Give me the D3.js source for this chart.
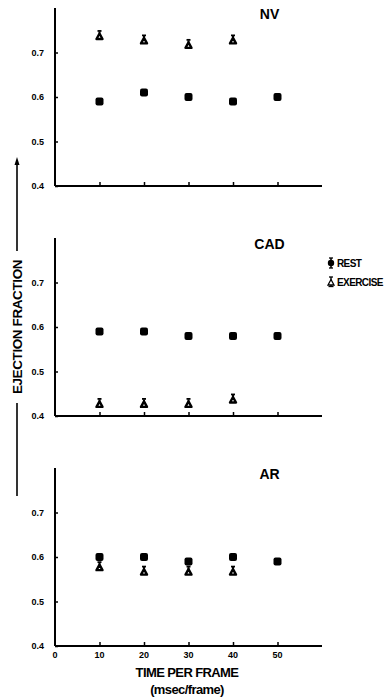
<!DOCTYPE html>
<html>
<head>
<meta charset="utf-8">
<script src="https://cdn.jsdelivr.net/npm/d3@7"></script>
<style>
html,body{margin:0;padding:0;background:#fff;}
svg{display:block;}
text{font-family:"Liberation Sans",Arial,Helvetica,sans-serif;font-weight:bold;fill:#000;}
</style>
</head>
<body>
<svg id="chart" width="391" height="700"></svg>
<script>
// ---- data ----
const times = [10, 20, 30, 40, 50];
const panels = ["NV", "CAD", "AR"];
const restNV = [0.59, 0.61, 0.60, 0.59, 0.60];
const exerciseNV = [0.74, 0.73, 0.72, 0.73];
const restCAD = [0.59, 0.59, 0.58, 0.58, 0.58];
const exerciseCAD = [0.43, 0.43, 0.43, 0.44];
const restAR = [0.60, 0.60, 0.59, 0.60, 0.59];
const exerciseAR = [0.58, 0.57, 0.57, 0.57];
const yTicks = [0.4, 0.5, 0.6, 0.7];
const xTicks = [0, 10, 20, 30, 40, 50];
const xTickLabels = ["0", "10", "20", "30", "40", "50"];
const legendLabels = ["REST", "EXERCISE"];
const xTitle = ["TIME PER FRAME", "(msec/frame)"];
const yTitle = "EJECTION FRACTION";

const restSeries = [restNV, restCAD, restAR];
const exSeries = [exerciseNV, exerciseCAD, exerciseAR];

const svg = d3.select("#chart");
const x = d3.scaleLinear().domain([0, 60]).range([55, 322]);
const panelBottoms = [186, 416, 646];
const panelH = 178;

function restMarker(g, cx, cy) {
  g.append("rect").attr("x", cx - 4).attr("y", cy - 4).attr("width", 8).attr("height", 8)
    .attr("rx", 2).attr("fill", "#000");
}
function exMarker(g, cx, cy) {
  const h = 5.5, w = 6;
  const c = cy + 1.5;
  g.append("path")
    .attr("d", `M${cx},${c - h / 2} L${cx + w / 2},${c + h / 2} L${cx - w / 2},${c + h / 2} Z`)
    .attr("fill", "#fff").attr("stroke", "#000").attr("stroke-width", 2.4).attr("stroke-linejoin", "round");
  g.append("line").attr("x1", cx).attr("x2", cx).attr("y1", c - h / 2).attr("y2", c - h / 2 - 2)
    .attr("stroke", "#000").attr("stroke-width", 2);
  g.append("line").attr("x1", cx - 2).attr("x2", cx + 2).attr("y1", c - h / 2 - 2.5).attr("y2", c - h / 2 - 2.5)
    .attr("stroke", "#000").attr("stroke-width", 1.8);
}

panels.forEach((name, i) => {
  const bottom = panelBottoms[i];
  const y = d3.scaleLinear().domain([0.4, 0.8]).range([bottom, bottom - panelH]);
  const g = svg.append("g");

  const yAxis = d3.axisRight(y).tickValues(yTicks).tickSize(3).tickFormat("");
  const ya = g.append("g").attr("transform", `translate(${x(0)},0)`).call(yAxis);
  ya.select(".domain").attr("d", `M0,${y(0.8)}V${y(0.4)}`).attr("stroke-width", 2);
  ya.selectAll(".tick line").attr("stroke-width", 1.5);

  g.selectAll(".ylab").data(yTicks).enter().append("text")
    .attr("x", 44).attr("y", d => y(d) + 3.2)
    .attr("text-anchor", "end").attr("font-size", 9)
    .text(d => d.toFixed(1));

  const xAxis = d3.axisTop(x).tickValues(xTicks.slice(1)).tickSize(4).tickFormat("");
  const xa = g.append("g").attr("transform", `translate(0,${bottom})`).call(xAxis);
  xa.select(".domain").attr("d", `M${x(0)},0H${x(60)}`).attr("stroke-width", 2);
  xa.selectAll(".tick line").attr("stroke-width", 1.5);

  g.append("text").attr("x", x(50) - 8).attr("y", y(0.8) + 11)
    .attr("text-anchor", "middle").attr("font-size", 14).text(name);

  restSeries[i].forEach((v, k) => restMarker(g, x(times[k]), y(v)));
  exSeries[i].forEach((v, k) => exMarker(g, x(times[k]), y(v)));

  if (i === 2) {
    g.selectAll(".xlab").data(xTicks).enter().append("text")
      .attr("x", d => x(d)).attr("y", bottom + 12)
      .attr("text-anchor", "middle").attr("font-size", 9)
      .text((d, k) => xTickLabels[k]);
  }
});

svg.append("text").attr("x", 187).attr("y", 677).attr("text-anchor", "middle")
  .attr("font-size", 13).attr("letter-spacing", -0.6).text(xTitle[0]);
svg.append("text").attr("x", 187).attr("y", 694).attr("text-anchor", "middle")
  .attr("font-size", 13).attr("letter-spacing", -0.6).text(xTitle[1]);

svg.append("text").attr("transform", "translate(22,327) rotate(-90)")
  .attr("text-anchor", "middle").attr("font-size", 13.5).attr("letter-spacing", -0.4).text(yTitle);
svg.append("line").attr("x1", 17).attr("x2", 17).attr("y1", 163).attr("y2", 251)
  .attr("stroke", "#000").attr("stroke-width", 1.6);
svg.append("line").attr("x1", 17).attr("x2", 17).attr("y1", 403).attr("y2", 496)
  .attr("stroke", "#000").attr("stroke-width", 1.6);
svg.append("path").attr("d", "M17,157 L19.5,165 L14.5,165 Z").attr("fill", "#000");

const lg = svg.append("g");
lg.append("line").attr("x1", 331).attr("x2", 331).attr("y1", 258).attr("y2", 268).attr("stroke", "#000").attr("stroke-width", 1.5);
lg.append("line").attr("x1", 329).attr("x2", 333).attr("y1", 258).attr("y2", 258).attr("stroke", "#000").attr("stroke-width", 1.3);
lg.append("line").attr("x1", 329).attr("x2", 333).attr("y1", 268).attr("y2", 268).attr("stroke", "#000").attr("stroke-width", 1.3);
lg.append("circle").attr("cx", 331).attr("cy", 263).attr("r", 3.2).attr("fill", "#000");
lg.append("line").attr("x1", 331).attr("x2", 331).attr("y1", 277).attr("y2", 286).attr("stroke", "#000").attr("stroke-width", 1.3);
lg.append("line").attr("x1", 329).attr("x2", 333).attr("y1", 277).attr("y2", 277).attr("stroke", "#000").attr("stroke-width", 1.3);
lg.append("line").attr("x1", 328.5).attr("x2", 333.5).attr("y1", 286.5).attr("y2", 286.5).attr("stroke", "#000").attr("stroke-width", 1.3);
lg.append("path").attr("d", "M331,279.5 L334,285 L328,285 Z").attr("fill", "#fff").attr("stroke", "#000").attr("stroke-width", 1.3);
lg.selectAll(".lt").data(legendLabels).enter().append("text")
  .attr("x", 337).attr("y", (d, k) => 266.5 + k * 19)
  .attr("font-size", 10).attr("letter-spacing", -0.6).text(d => d);
</script>
</body>
</html>
